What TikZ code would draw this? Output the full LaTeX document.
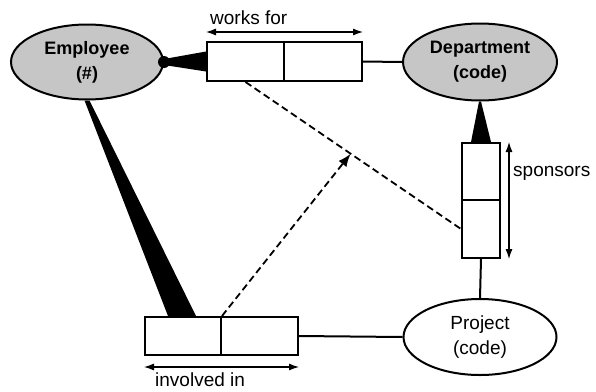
\documentclass[tikz,border=0pt]{standalone}
\usepackage{fontspec}
\setmainfont{Liberation Sans}
\usetikzlibrary{shapes.geometric,arrows.meta}
\tikzset{
  entity/.style={ellipse,draw,line width=2pt,inner sep=0pt,align=center,font=\fontsize{19}{25}\selectfont},
  key/.style={entity,fill=gray!45,font=\bfseries\fontsize{18}{25}\selectfont},
  cell/.style={rectangle,draw,line width=2pt,inner sep=0pt},
  wedge/.style={fill=black},
  link/.style={line width=2pt},
  dashy/.style={line width=1.8pt,dash pattern=on 7pt off 4pt},
  dim/.style={line width=1.1pt,{Latex[length=10pt,width=7pt]}-{Latex[length=10pt,width=7pt]}},
  lab/.style={font=\fontsize{19}{22}\selectfont,inner sep=0pt}
}
\begin{document}
\begin{tikzpicture}[x=1pt,y=-1pt]
                \useasboundingbox (0,0) rectangle (596,391);
                \node (emp) [key,minimum width=152pt,minimum height=75pt] at (87,62) {Employee\\(\#)};
                \node (dept) [key,minimum width=154pt,minimum height=77pt] at (480,62) {Department\\(code)};
                \node (proj) [entity,minimum width=153pt,minimum height=76pt] at (480,337) {Project\\(code)};
                \node (wf1) [cell,minimum width=77pt,minimum height=39pt] at (245.5,61.5) {};
                \node (wf2) [cell,minimum width=78pt,minimum height=39pt] at (323,61.5) {};
                \node (sp1) [cell,minimum width=38pt,minimum height=57pt] at (481,171.5) {};
                \node (sp2) [cell,minimum width=38pt,minimum height=58pt] at (481,229) {};
                \node (in1) [cell,minimum width=76pt,minimum height=38pt] at (183,336) {};
                \node (in2) [cell,minimum width=77pt,minimum height=38pt] at (259.5,336) {};
                \draw [link] (wf2.east) -- (dept.west);
                \draw [link] (sp2.south) -- (proj.north);
                \draw [link] (in2.east) -- (proj.west);
                \fill [wedge] (emp.east) circle (6pt);
                \fill [wedge] ([yshift=3pt]emp.east) -- ([yshift=10pt]wf1.west) -- ([yshift=-10pt]wf1.west) -- ([yshift=-3pt]emp.east) -- cycle;
                \fill [wedge] ([xshift=-1pt]dept.south) -- ([xshift=-10pt]sp1.north) -- ([xshift=10pt]sp1.north) -- ([xshift=1pt]dept.south) -- cycle;
                \fill [wedge] ([xshift=-2.5pt]emp.south) -- ([xshift=-15pt]in1.north) -- ([xshift=13pt]in1.north) -- ([xshift=2.5pt]emp.south) -- cycle;
                \draw [dashy] (wf1.south) -- coordinate[pos=0.488] (mid) (sp2.west);
                \draw [dashy,-{Latex[length=13pt,width=10pt]}] (in1.north east) -- (mid);
                \draw [dim] ([yshift=9pt]wf1.north west) -- ([yshift=9pt]wf2.north east);
                \draw [dim] ([xshift=8pt]sp1.north east) -- ([xshift=8pt]sp2.south east);
                \draw [dim] ([yshift=-11pt]in1.south west) -- ([yshift=-11pt]in2.south east);
                \node (wflab) [lab,anchor=west] at (210,18) {works for};
                \node (splab) [lab,anchor=west] at (513,173) {sponsors};
                \node (inlab) [lab,anchor=west] at (155,380) {involved in};
            \end{tikzpicture}
\end{document}
